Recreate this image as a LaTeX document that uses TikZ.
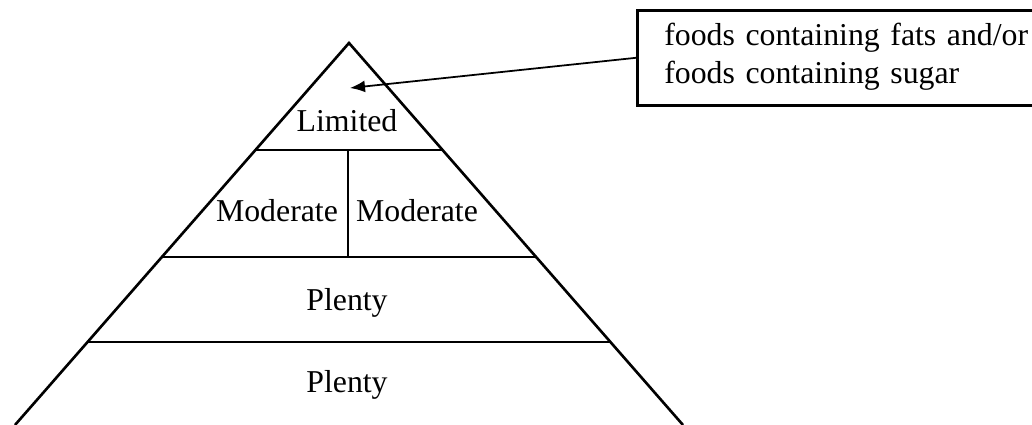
\documentclass[tikz,border=0pt]{standalone}
\usepackage{fontspec}
\setmainfont{Liberation Serif}
\usetikzlibrary{arrows.meta}

\begin{document}
\begin{tikzpicture}[x=0.02cm, y=-0.02cm, font=\fontsize{18.1pt}{21.6pt}\selectfont,
  level/.style={anchor=base},
  edge/.style={line width=1.5pt}]
  \useasboundingbox (0,0) rectangle (1032,425);
  \clip (0,0) rectangle (1032,425);

  % Pyramid
  \coordinate (apex) at (349,43);
  \draw[edge, line join=miter] (15,425) -- (apex) -- (683,425);
  \draw[edge] (256,150) -- (442,150);
  \draw[edge] (162,257) -- (536,257);
  \draw[edge] (87,342) -- (611,342);
  \draw[edge] (348,150) -- (348,257);

  % Nodes
  \node[level] (limited) at (347,132) {Limited};
  \node[level] (modL) at (277,222) {Moderate};
  \node[level] (modR) at (417,222) {Moderate};
  \node[level] (plenty1) at (347,311) {Plenty};
  \node[level] (plenty2) at (347,393) {Plenty};

  % Note box
  \node[draw, line width=1.5pt, anchor=north west, align=left, inner xsep=0.54cm,
        text width=7.6cm, text depth=0.96cm, minimum height=1.9cm,
        font=\fontsize{18.1pt}{21.9pt}\selectfont] (foods) at (636,9)
        {foods containing fats and/or\\foods containing sugar};
  \coordinate (tip) at (350,88);

  % Arrows
  \draw[line width=1pt, -{Latex[length=0.3cm, width=0.24cm]}] (foods.west) -- (tip);
\end{tikzpicture}
\end{document}
